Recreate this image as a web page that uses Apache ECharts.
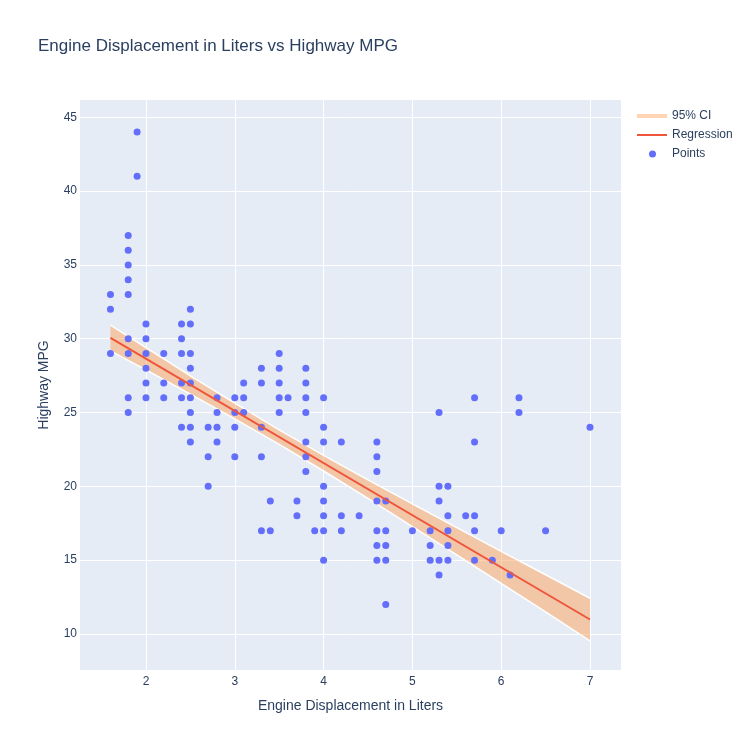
<!DOCTYPE html>
<html>
<head>
<meta charset="utf-8">
<script src="https://cdn.jsdelivr.net/npm/echarts@6/dist/echarts.min.js"></script>
<style>
  html, body { margin: 0; padding: 0; background: #fff; }
  #chart { width: 750px; height: 750px; }
</style>
</head>
<body>
<div id="chart"></div>
<script>
// engine displacement (litres) and highway mpg, one entry per visible dot
const displ = [
  1.6, 1.6, 1.6,
  1.8, 1.8, 1.8, 1.8, 1.8, 1.8, 1.8, 1.8, 1.8,
  1.9, 1.9,
  2.0, 2.0, 2.0, 2.0, 2.0, 2.0,
  2.2, 2.2, 2.2,
  2.4, 2.4, 2.4, 2.4, 2.4, 2.4,
  2.5, 2.5, 2.5, 2.5, 2.5, 2.5, 2.5, 2.5, 2.5,
  2.7, 2.7, 2.7,
  2.8, 2.8, 2.8, 2.8,
  3.0, 3.0, 3.0, 3.0,
  3.1, 3.1, 3.1,
  3.3, 3.3, 3.3, 3.3, 3.3,
  3.4, 3.4,
  3.5, 3.5, 3.5, 3.5, 3.5,
  3.6,
  3.7, 3.7,
  3.8, 3.8, 3.8, 3.8, 3.8, 3.8, 3.8,
  3.9,
  4.0, 4.0, 4.0, 4.0, 4.0, 4.0, 4.0, 4.0,
  4.2, 4.2, 4.2,
  4.4,
  4.6, 4.6, 4.6, 4.6, 4.6, 4.6, 4.6,
  4.7, 4.7, 4.7, 4.7, 4.7,
  5.0,
  5.2, 5.2, 5.2,
  5.3, 5.3, 5.3, 5.3, 5.3,
  5.4, 5.4, 5.4, 5.4, 5.4,
  5.6,
  5.7, 5.7, 5.7, 5.7, 5.7,
  5.9, 6.0, 6.1,
  6.2, 6.2,
  6.5, 7.0
];
const hwy = [
  33, 32, 29,
  37, 36, 35, 34, 33, 30, 29, 26, 25,
  44, 41,
  31, 30, 29, 28, 27, 26,
  29, 27, 26,
  31, 30, 29, 27, 26, 24,
  32, 31, 29, 28, 27, 26, 25, 24, 23,
  24, 22, 20,
  26, 25, 24, 23,
  26, 25, 24, 22,
  27, 26, 25,
  28, 27, 24, 22, 17,
  19, 17,
  29, 28, 27, 26, 25,
  26,
  19, 18,
  28, 27, 26, 25, 23, 22, 21,
  17,
  26, 24, 23, 20, 19, 18, 17, 15,
  23, 18, 17,
  18,
  23, 22, 21, 19, 17, 16, 15,
  19, 17, 16, 15, 12,
  17,
  17, 16, 15,
  25, 20, 19, 15, 14,
  20, 18, 17, 16, 15,
  18,
  26, 23, 18, 17, 15,
  15, 17, 14,
  26, 25,
  17, 24
];

// fitted line ends
const regX = [1.6, 7.0];
const regY = [30.05, 10.98];

// 95% confidence band
const bandX = [1.6, 2.0, 2.5, 3.0, 3.5, 4.0, 4.5, 5.0, 5.5, 6.0, 6.5, 7.0];
const bandLower = [29.18, 27.89, 26.25, 24.57, 22.85, 21.04, 19.18, 17.27, 15.36, 13.42, 11.49, 9.54];
const bandUpper = [30.92, 29.39, 27.49, 25.63, 23.83, 22.10, 20.44, 18.81, 17.20, 15.60, 14.01, 12.42];

const xTicks = [2, 3, 4, 5, 6, 7];
const yTicks = [10, 15, 20, 25, 30, 35, 40, 45];

const textColor = '#2a3f5f';
const fontFamily = '"Liberation Sans", Arial, sans-serif';
const bandColor = 'rgba(255,161,90,0.5)';

const chart = echarts.init(document.getElementById('chart'));

function renderBand(params, api) {
  if (params.dataIndex !== 0) return null;
  const top = [], bottom = [];
  for (let i = 0; i < bandX.length; i++) {
    top.push(api.coord([bandX[i], bandUpper[i]]));
    bottom.push(api.coord([bandX[i], bandLower[i]]));
  }
  const outline = top.concat(bottom.slice().reverse());
  return {
    type: 'group',
    children: [
      { type: 'polygon', shape: { points: outline }, style: { fill: bandColor } },
      { type: 'polyline', shape: { points: top }, style: { stroke: '#fff', lineWidth: 1.5, fill: null } },
      { type: 'polyline', shape: { points: bottom }, style: { stroke: '#fff', lineWidth: 1.5, fill: null } }
    ]
  };
}

const legendText = { color: textColor, fontSize: 12, fontFamily: fontFamily };

const option = {
  animation: false,
  textStyle: { fontFamily: fontFamily },
  title: {
    text: 'Engine Displacement in Liters vs Highway MPG',
    left: 38,
    top: 38,
    padding: 0,
    textStyle: { fontSize: 17, fontWeight: 'normal', color: textColor, fontFamily: fontFamily }
  },
  legend: [
    {
      data: [{ name: '95% CI', itemStyle: { color: 'rgba(255,161,90,0.45)' } }],
      icon: 'rect', itemWidth: 30, itemHeight: 4,
      left: 637, top: 110, padding: 0, textStyle: legendText
    },
    {
      data: [{ name: 'Regression', itemStyle: { color: '#EF553B' } }],
      icon: 'rect', itemWidth: 30, itemHeight: 2,
      left: 637, top: 129, padding: 0, textStyle: legendText
    },
    {
      data: [{ name: 'Points', itemStyle: { color: '#636efa' } }],
      icon: 'circle', itemWidth: 7, itemHeight: 7,
      left: 649, top: 148, padding: 0,
      textStyle: Object.assign({ padding: [0, 0, 0, 11] }, legendText)
    }
  ],
  grid: {
    left: 80, right: 129, top: 100, bottom: 80,
    show: true, backgroundColor: '#E5ECF6', borderWidth: 0
  },
  xAxis: {
    type: 'value',
    min: 1.257,
    max: 7.349,
    name: 'Engine Displacement in Liters',
    nameLocation: 'middle',
    nameGap: 29,
    nameTextStyle: { fontSize: 14, color: textColor },
    axisLine: { show: false },
    axisTick: { show: false, customValues: xTicks },
    axisLabel: { customValues: xTicks, color: textColor, fontSize: 12, margin: 6 },
    splitLine: { show: true, lineStyle: { color: '#fff', width: 1 } }
  },
  yAxis: {
    type: 'value',
    min: 7.56,
    max: 46.17,
    name: 'Highway MPG',
    nameLocation: 'middle',
    nameGap: 29,
    nameTextStyle: { fontSize: 14, color: textColor },
    axisLine: { show: false },
    axisTick: { show: false, customValues: yTicks },
    axisLabel: { customValues: yTicks, color: textColor, fontSize: 12, margin: 3 },
    splitLine: { show: true, lineStyle: { color: '#fff', width: 1 } }
  },
  series: [
    {
      name: 'Points',
      type: 'scatter',
      data: displ.map((d, i) => [d, hwy[i]]),
      symbolSize: 7,
      itemStyle: { color: '#636efa', opacity: 1 }
    },
    {
      name: '95% CI',
      type: 'custom',
      data: bandX.map((x, i) => [x, bandLower[i], bandUpper[i]]),
      encode: { x: 0, y: [1, 2] },
      itemStyle: { color: bandColor },
      renderItem: renderBand
    },
    {
      name: 'Regression',
      type: 'line',
      data: regX.map((x, i) => [x, regY[i]]),
      showSymbol: false,
      lineStyle: { color: '#EF553B', width: 2 },
      itemStyle: { color: '#EF553B' }
    }
  ]
};

chart.setOption(option);
</script>
</body>
</html>
